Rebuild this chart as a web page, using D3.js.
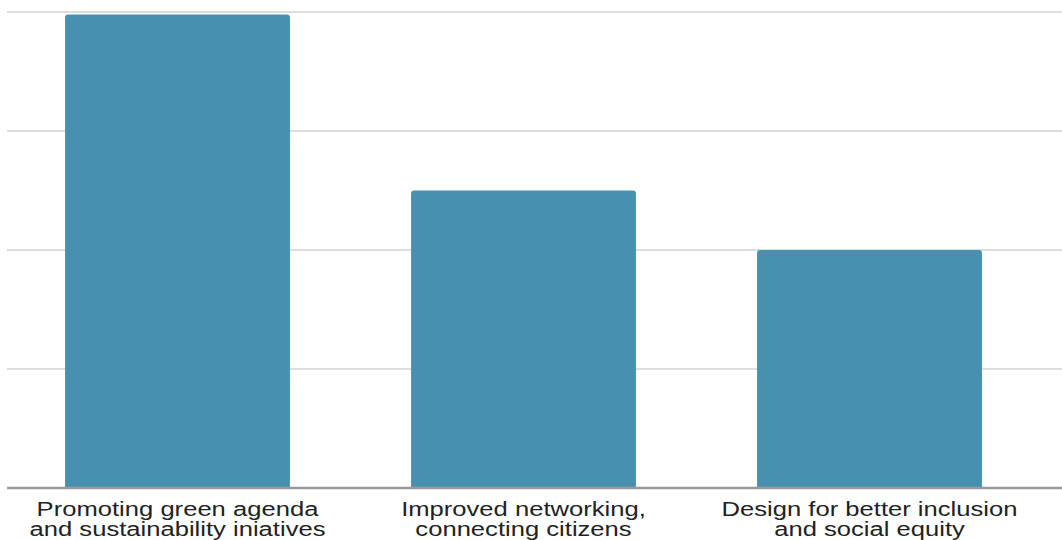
<!DOCTYPE html>
<html>
<head>
<meta charset="utf-8">
<script src="https://cdn.jsdelivr.net/npm/d3@7"></script>
<style>
  html, body { margin: 0; padding: 0; background: #fff; }
  svg { display: block; }
</style>
</head>
<body>
<svg id="chart" width="1062" height="540"></svg>
<script>
// Categories (two-line labels) and their values
const categories = [
  ["Promoting green agenda", "and sustainability iniatives"],
  ["Improved networking,", "connecting citizens"],
  ["Design for better inclusion", "and social equity"]
];
const values = [3.98, 2.5, 2.0];
const gridTicks = [1, 2, 3, 4];

const W = 1062, H = 540;
const svg = d3.select("#chart");

const x = d3.scaleBand()
  .domain(d3.range(categories.length))
  .range([4.5, 1042.5])
  .paddingInner(0.35)
  .paddingOuter(0.175);

const y = d3.scaleLinear().domain([0, 4]).range([488, 12]);

const gridLeft = 7;

// Horizontal gridlines
svg.append("g")
  .selectAll("line")
  .data(gridTicks)
  .join("line")
  .attr("x1", gridLeft).attr("x2", W)
  .attr("y1", d => y(d)).attr("y2", d => y(d))
  .attr("stroke", "#dddddd")
  .attr("stroke-width", 2);

// Bars with softly rounded top corners
const r = 3;
function barPath(i, v) {
  const x0 = x(i), x1 = x(i) + x.bandwidth();
  const yt = y(v), yb = y(0);
  return `M${x0},${yb}V${yt + r}Q${x0},${yt} ${x0 + r},${yt}H${x1 - r}Q${x1},${yt} ${x1},${yt + r}V${yb}Z`;
}
svg.append("g")
  .selectAll("path")
  .data(values)
  .join("path")
  .attr("d", (v, i) => barPath(i, v))
  .attr("fill", "#4890b0");

// Baseline
svg.append("line")
  .attr("x1", gridLeft).attr("x2", W)
  .attr("y1", y(0)).attr("y2", y(0))
  .attr("stroke", "#9a9a9a")
  .attr("stroke-width", 2.5);

// Category labels
const labels = svg.append("g")
  .selectAll("text")
  .data(categories)
  .join("text")
  .attr("transform", (d, i) => `translate(${x(i) + x.bandwidth() / 2},516) scale(1.28,1)`)
  .attr("text-anchor", "middle")
  .attr("font-family", "Liberation Sans, Arial, sans-serif")
  .attr("font-size", 20)
  .attr("fill", "#222");
labels.selectAll("tspan")
  .data(d => d)
  .join("tspan")
  .attr("x", 0)
  .attr("dy", (d, j) => j === 0 ? 0 : 20)
  .text(d => d);
</script>
</body>
</html>
